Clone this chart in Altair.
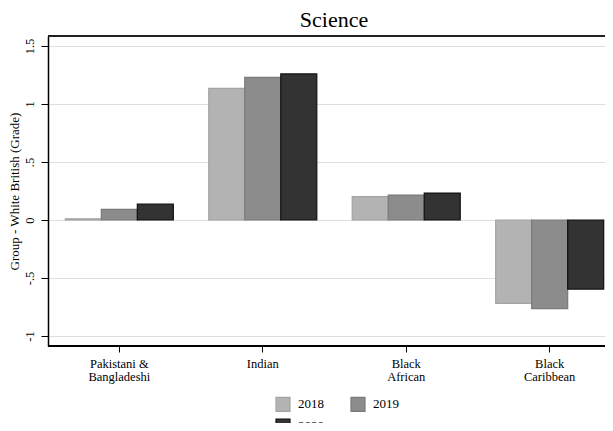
import altair as alt
import pandas as pd

GROUPS = ["Pakistani & Bangladeshi", "Indian", "Black African", "Black Caribbean"]
GROUP_LINES = [["Pakistani &", "Bangladeshi"], ["Indian"], ["Black", "African"], ["Black", "Caribbean"]]
YEARS = ["2018", "2019", "2020"]
V2018 = [0.010, 1.135, 0.201, -0.718]
V2019 = [0.092, 1.230, 0.215, -0.764]
V2020 = [0.138, 1.259, 0.232, -0.595]
Y_TICKS = [-1, -0.5, 0, 0.5, 1, 1.5]
FILLS = ["#b3b3b3", "#8c8c8c", "#333333"]
STROKES = ["#a3a3a3", "#7a7a7a", "#111111"]

rows = []
for yr, vals in zip(YEARS, [V2018, V2019, V2020]):
    for g, v in zip(GROUPS, vals):
        rows.append({"group": g, "year": yr, "value": v})
df = pd.DataFrame(rows)

label_expr = " : ".join(
    f"datum.label == '{g}' ? {lines!r}" for g, lines in zip(GROUPS, GROUP_LINES)
) + " : datum.label"

FONT = "Liberation Serif"
W, H = 557, 310

legend_kw = dict(title=None, orient="none", legendX=227, legendY=360,
                 columns=2, direction="horizontal",
                 symbolType="square", symbolSize=196, symbolStrokeWidth=1.2,
                 labelFont=FONT, labelFontSize=13, labelColor="black",
                 labelOffset=7, columnPadding=24, rowPadding=2, padding=0)

bars = alt.Chart(df).mark_bar(strokeWidth=1.2).encode(
    x=alt.X("group:N", sort=GROUPS,
            scale=alt.Scale(range=[0, 573], paddingInner=0.247, paddingOuter=0.1207),
            axis=alt.Axis(title=None, labelExpr=label_expr, labelAngle=0,
                          labelFont=FONT, labelFontSize=12.5, labelColor="black",
                          labelLineHeight=13, labelPadding=5,
                          tickSize=6, tickColor="black", tickWidth=1,
                          domain=False, grid=False)),
    xOffset=alt.XOffset("year:N", sort=YEARS,
                        scale=alt.Scale(paddingInner=0, paddingOuter=0)),
    y=alt.Y("value:Q",
            scale=alt.Scale(domain=[-1.086, 1.586], nice=False, zero=False),
            axis=alt.Axis(values=Y_TICKS,
                          labelExpr="replace(toString(datum.value), '0.', '.')",
                          title="Group - White British (Grade)",
                          titleFont=FONT, titleFontSize=13, titleFontWeight="normal",
                          titleColor="black", titlePadding=2,
                          labelFont=FONT, labelFontSize=12.5, labelColor="black",
                          labelAngle=270, labelAlign="center", labelBaseline="bottom",
                          labelPadding=5,
                          tickSize=7, tickColor="black", tickWidth=1,
                          domainColor="black", domainWidth=1.5,
                          grid=True, gridColor="#dedede", gridWidth=1)),
    fill=alt.Fill("year:N", sort=YEARS,
                  scale=alt.Scale(domain=YEARS, range=FILLS),
                  legend=alt.Legend(**legend_kw)),
    stroke=alt.Stroke("year:N", sort=YEARS,
                      scale=alt.Scale(domain=YEARS, range=STROKES),
                      legend=alt.Legend(**legend_kw)),
)

frame_top = alt.Chart(df).mark_rule(color="#222222", strokeWidth=1.5).encode(
    x=alt.value(0), x2=alt.value(W), y=alt.value(0), y2=alt.value(0))
frame_bottom = alt.Chart(df).mark_rule(color="black", strokeWidth=1.5).encode(
    x=alt.value(0), x2=alt.value(W), y=alt.value(H), y2=alt.value(H))

chart = alt.layer(bars, frame_top, frame_bottom).properties(
    width=W, height=H,
    title=alt.TitleParams("Science", font=FONT, fontSize=22, fontWeight="normal",
                          color="black", anchor="middle", dx=7.5, offset=7, dy=4),
    padding={"left": 40, "top": 28, "right": 0, "bottom": 77},
    autosize=alt.AutoSizeParams(type="none"),
).configure_view(stroke="transparent", strokeWidth=0).configure(background="white")

chart.save("out.html", embed_options={"renderer": "svg", "actions": False})
